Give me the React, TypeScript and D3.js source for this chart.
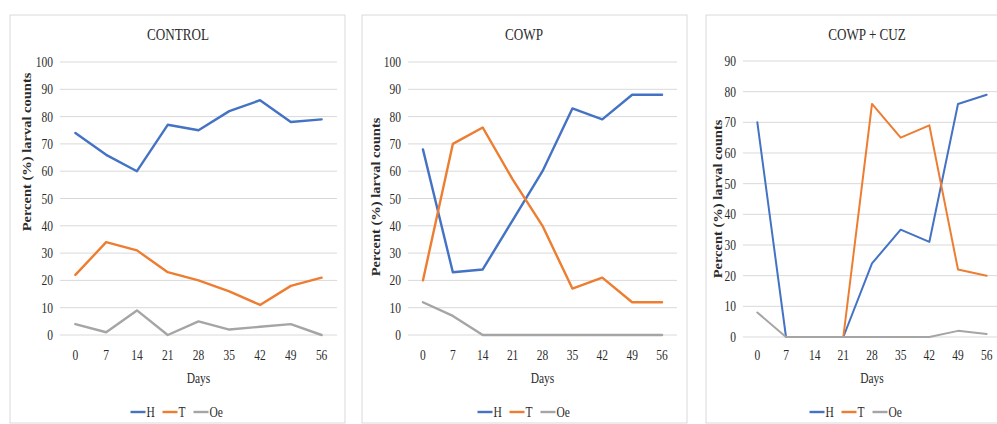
import React from "react";
import * as d3 from "d3";

// days on the x axis (same for every panel)
const days = ["0", "7", "14", "21", "28", "35", "42", "49", "56"];

// CONTROL
const controlH = [74, 66, 60, 77, 75, 82, 86, 78, 79];
const controlT = [22, 34, 31, 23, 20, 16, 11, 18, 21];
const controlOe = [4, 1, 9, 0, 5, 2, 3, 4, 0];

// COWP
const cowpH = [68, 23, 24, 42, 60, 83, 79, 88, 88];
const cowpT = [20, 70, 76, 57, 40, 17, 21, 12, 12];
const cowpOe = [12, 7, 0, 0, 0, 0, 0, 0, 0];

// COWP + CUZ
const cuzH = [70, 0, 0, 0, 24, 35, 31, 76, 79];
const cuzT = [null, 0, 0, 0, 76, 65, 69, 22, 20];
const cuzOe = [8, 0, 0, 0, 0, 0, 0, 2, 1];

const seriesNames = ["H", "T", "Oe"];
const colors = {H: "#4472C4", T: "#ED7D31", Oe: "#A5A5A5"};

const FONT = "'Liberation Serif', 'Times New Roman', serif";
// the source picture is squeezed sideways, so the glyphs are narrow
const SQUEEZE = 0.82;
const INK = "#2b2b2b";

const panels = [
    {
        title: "CONTROL",
        box: [10, 15, 345, 423],
        plot: {x0: 60, x1: 337, y0: 62, y1: 335},
        yMax: 100,
        titleX: 178,
        yTitle: {x: 28, y: 152},
        legendX: 178,
        lineWidth: 2.4,
        series: {H: controlH, T: controlT, Oe: controlOe}
    },
    {
        title: "COWP",
        box: [362, 15, 687, 423],
        plot: {x0: 408, x1: 677, y0: 62, y1: 335},
        yMax: 100,
        titleX: 524,
        yTitle: {x: 377, y: 197},
        legendX: 525,
        lineWidth: 2.4,
        series: {H: cowpH, T: cowpT, Oe: cowpOe}
    },
    {
        title: "COWP + CUZ",
        box: [706, 15, 1040, 423],
        plot: {x0: 743, x1: 1001, y0: 61, y1: 337},
        yMax: 90,
        titleX: 867,
        yTitle: {x: 719, y: 199},
        legendX: 857,
        lineWidth: 2,
        series: {H: cuzH, T: cuzT, Oe: cuzOe}
    }
];

const Txt = ({x, y, size, anchor = "middle", children, weight = "normal"}) => (
    <text transform={`translate(${x},${y}) scale(${SQUEEZE},1)`} textAnchor={anchor}
          style={{fontFamily: FONT}} fontSize={size} fontWeight={weight} fill={INK}>
        {children}
    </text>
);

const Panel = ({p}) => {
    const {x0, x1, y0, y1} = p.plot;
    const x = d3.scaleBand().domain(days).range([x0, x1]);
    const y = d3.scaleLinear().domain([0, p.yMax]).range([y1, y0]);
    const yTicks = d3.range(0, p.yMax + 1, 10);

    const line = d3.line()
        .defined(d => d[1] !== null)
        .x(d => x(d[0]) + x.bandwidth() / 2)
        .y(d => y(d[1]));

    // legend pieces
    const legendItems = [
        {name: "H", w: 9},
        {name: "T", w: 8},
        {name: "Oe", w: 15}
    ];
    const segLen = 15;
    const gap = 6;
    const totalW = legendItems.reduce((s, it) => s + segLen + 2 + it.w, 0) + gap * (legendItems.length - 1);
    let lx = p.legendX - totalW / 2;

    return (
        <g>
            <rect x={p.box[0]} y={p.box[1]} width={p.box[2] - p.box[0]} height={p.box[3] - p.box[1]}
                  fill="#fff" stroke="#D9D9D9" strokeWidth={1}/>
            <Txt x={p.titleX} y={40} size={16}>{p.title}</Txt>

            {yTicks.map(t => (
                <g key={t}>
                    <line x1={x0} x2={x1} y1={y(t)} y2={y(t)} stroke="#D9D9D9" strokeWidth={1}/>
                    <Txt x={x0 - 7} y={y(t) + 5} size={14} anchor="end">{t}</Txt>
                </g>
            ))}

            {days.map(d => (
                <Txt key={d} x={x(d) + x.bandwidth() / 2} y={360} size={14}>{d}</Txt>
            ))}

            <Txt x={(x0 + x1) / 2} y={383} size={14}>Days</Txt>

            <text transform={`translate(${p.yTitle.x},${p.yTitle.y}) rotate(-90) scale(1,${SQUEEZE})`}
                  textAnchor="middle" dominantBaseline="middle" style={{fontFamily: FONT}} fontSize={14.5}
                  fontWeight="bold" fill={INK}>
                Percent (%) larval counts
            </text>

            {seriesNames.map(name => (
                <path key={name}
                      d={line(days.map((d, i) => [d, p.series[name][i]]))}
                      fill="none" stroke={colors[name]} strokeWidth={p.lineWidth}
                      strokeLinejoin="round" strokeLinecap="round"/>
            ))}

            {legendItems.map(it => {
                const sx = lx;
                lx += segLen + 2 + it.w + gap;
                return (
                    <g key={it.name}>
                        <line x1={sx} x2={sx + segLen} y1={412} y2={412} stroke={colors[it.name]}
                              strokeWidth={2.4}/>
                        <Txt x={sx + segLen + 1} y={417} size={14} anchor="start">{it.name}</Txt>
                    </g>
                );
            })}
        </g>
    );
};

const App = () => {
    return (
        <svg width={997} height={424} style={{position: "absolute", left: 0, top: 0, background: "#fff"}}>
            <rect x={0} y={0} width={997} height={424} fill="#fff"/>
            {panels.map(p => <Panel key={p.title} p={p}/>)}
        </svg>
    );
};

export default App;
